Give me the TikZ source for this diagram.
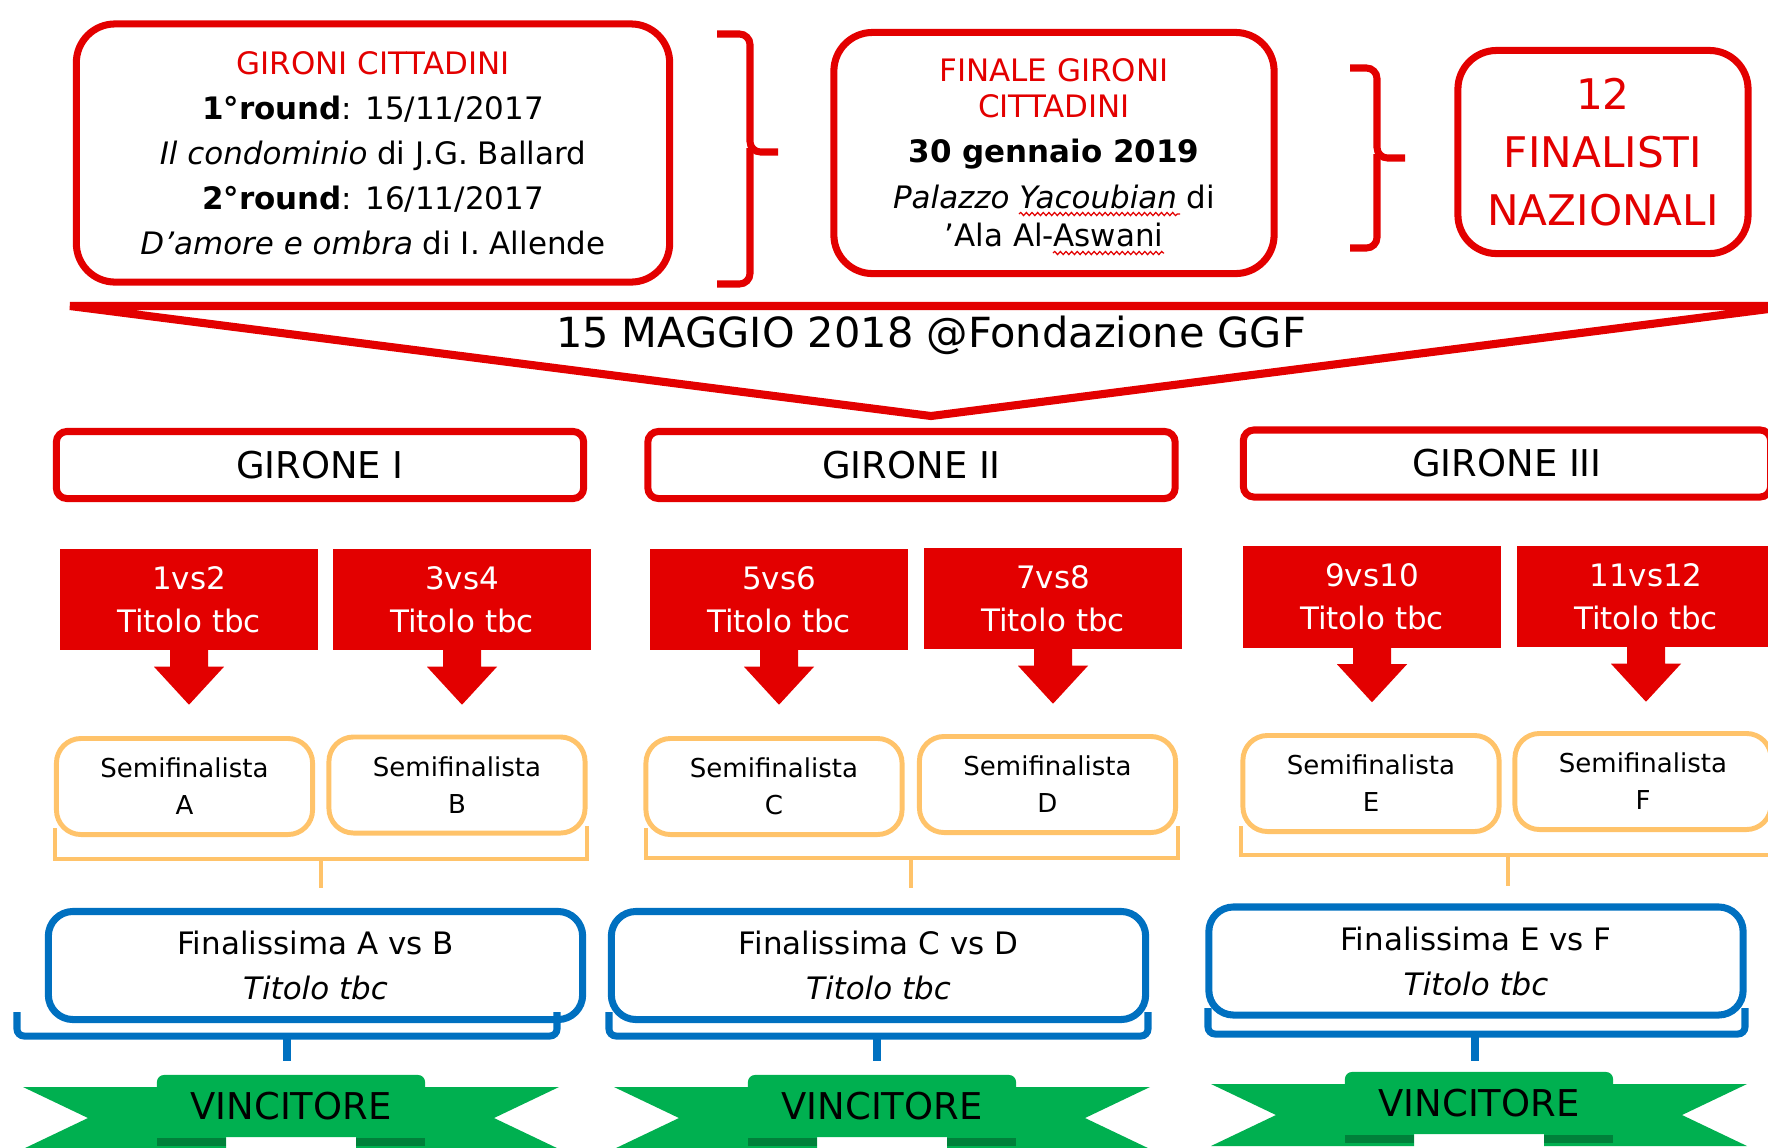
\documentclass[tikz,border=0pt]{standalone}
\usepackage{fontspec}
\setmainfont{DejaVu Sans}
\usepackage{xcolor}
\usepackage{tikz}
\usetikzlibrary{calc}
\usetikzlibrary{positioning}
\usetikzlibrary{decorations.pathmorphing}

\definecolor{ggfred}{HTML}{E30000}
\definecolor{ggforange}{HTML}{FFC36A}
\definecolor{ggfblue}{HTML}{0070C0}
\definecolor{ggfgreen}{HTML}{00B050}
\definecolor{ggfdark}{HTML}{00803A}

\tikzset{
  redbox/.style={draw=ggfred, line width=2pt, rounded corners=11pt, fill=white, align=center, inner sep=0pt},
  girone/.style={draw=ggfred, line width=2pt, rounded corners=3pt, minimum width=5.27cm, minimum height=0.67cm, inner sep=0pt, font=\fontsize{10.5pt}{12pt}\selectfont},
  match/.style={fill=ggfred, text=white, align=center, inner sep=0pt, minimum width=2.58cm, minimum height=1.01cm, font=\fontsize{8.8pt}{12.2pt}\selectfont},
  semi/.style={draw=ggforange, line width=1.4pt, rounded corners=7pt, minimum width=2.56cm, minimum height=0.96cm, align=center, inner sep=0pt, font=\fontsize{7.4pt}{10.5pt}\selectfont},
  final/.style={draw=ggfblue, line width=2pt, rounded corners=7pt, minimum width=5.34cm, minimum height=1.08cm, align=center, inner sep=0pt, font=\fontsize{8.8pt}{12.8pt}\selectfont},
  winner/.style={fill=ggfgreen, rounded corners=2pt, minimum width=2.68cm, minimum height=0.62cm, inner sep=0pt, font=\fontsize{10.5pt}{12pt}\selectfont},
  redbrace/.style={draw=ggfred, line width=2pt, rounded corners=3pt},
  orangebrace/.style={draw=ggforange, line width=1.4pt},
  bluebrace/.style={draw=ggfblue, line width=2pt, rounded corners=2pt},
  spellwave/.style={draw=ggfred, line width=0.35pt, decorate, decoration={snake, amplitude=0.45pt, segment length=1.6pt}},
}

\begin{document}
\begin{tikzpicture}[x=0.01cm, y=-0.01cm]
\useasboundingbox (0,0) rectangle (1768,1147);
\clip (0,0) rectangle (1768,1147);

\node[redbox, minimum width=5.93cm, minimum height=2.58cm, font=\fontsize{8.8pt}{12.8pt}\selectfont] (gc) at (373,153)
  {\textcolor{ggfred}{GIRONI CITTADINI}\\ \textbf{1°round}: 15/11/2017\\ \textit{Il condominio} di J.G. Ballard\\ \textbf{2°round}: 16/11/2017\\ \textit{D’amore e ombra} di I. Allende};
\node[redbox, minimum width=4.4cm, minimum height=2.41cm, font=\fontsize{8.8pt}{10.2pt}\selectfont] (fgc) at (1054,153)
  {\textcolor{ggfred}{FINALE GIRONI}\\ \textcolor{ggfred}{CITTADINI}\\[2.6pt] \textbf{30 gennaio 2019}\\[2.8pt] \textit{Palazzo Yacoubian} di\\[0.6pt] 'Ala Al-Aswani};
\draw[spellwave] ($(fgc)+(-35,61)$) -- ($(fgc)+(126,61)$);
\draw[spellwave] ($(fgc)+(-1,100)$) -- ($(fgc)+(110,100)$);
\node[redbox, minimum width=2.9cm, minimum height=2.03cm, text=ggfred, font=\fontsize{12pt}{16.5pt}\selectfont] (fin) at (1603,152)
  {12\\ FINALISTI\\ NAZIONALI};

\draw[redbrace] (717,34) -- (750,34) -- (750,152) -- (778,152);
\draw[redbrace] (750,148) -- (750,284) -- (717,284);
\draw[redbrace] (1350,68) -- (1377,68) -- (1377,158) -- (1405,158);
\draw[redbrace] (1377,154) -- (1377,248) -- (1350,248);

\draw[ggfred, line width=2.3pt] (70,306) -- (1792,306) -- (931,416) -- cycle;
\node[font=\fontsize{11.8pt}{13pt}\selectfont] (date) at (931,335) {15 MAGGIO 2018 @Fondazione GGF};

\node[girone] (g1) at (320,465) {GIRONE I};
\node[girone] (g2) at (911.5,465) {GIRONE II};
\node[girone] (g3) at (1507,463.5) {GIRONE III};

\node[match] (m1) at (189,599.5) {1vs2\\Titolo tbc};
\node[match] (m2) at (462,599.5) {3vs4\\Titolo tbc};
\node[match] (m3) at (779,599.5) {5vs6\\Titolo tbc};
\node[match] (m4) at (1053,598.5) {7vs8\\Titolo tbc};
\node[match] (m5) at (1372,597) {9vs10\\Titolo tbc};
\node[match] (m6) at (1646,596.5) {11vs12\\Titolo tbc};
\foreach \m in {m1,m2,m3,m4,m5,m6}
  \fill[ggfred] ($(\m.south)+(-19,-1)$) -- ($(\m.south)+(-19,16)$) -- ($(\m.south)+(-35,16)$)
    -- ($(\m.south)+(0,54)$) -- ($(\m.south)+(35,16)$) -- ($(\m.south)+(19,16)$) -- ($(\m.south)+(19,-1)$) -- cycle;

\node[semi] (sA) at (184.5,786.5) {Semifinalista\\A};
\node[semi] (sB) at (457,785) {Semifinalista\\B};
\node[semi] (sC) at (774,786.5) {Semifinalista\\C};
\node[semi] (sD) at (1047.5,784.5) {Semifinalista\\D};
\node[semi] (sE) at (1371,783.5) {Semifinalista\\E};
\node[semi] (sF) at (1643,781.5) {Semifinalista\\F};

\node[final] (f1) at (315.5,965.5) {Finalissima A vs B\\\textit{Titolo tbc}};
\node[final] (f2) at (878.5,965.5) {Finalissima C vs D\\\textit{Titolo tbc}};
\node[final] (f3) at (1476,961) {Finalissima E vs F\\\textit{Titolo tbc}};

\draw[orangebrace] (55,828) |- (587,859) -- (587,826);
\draw[orangebrace] (646,828) |- (1178,858) -- (1178,826);
\draw[orangebrace] (1241,826) |- (1775,855) -- (1775,826);
\coordinate (oI) at (321,859);
\coordinate (oII) at (911,858);
\coordinate (oIII) at (1508,855);
\draw[orangebrace, shorten >=0.2cm] (oI) -- (oI |- f1.north);
\draw[orangebrace, shorten >=0.2cm] (oII) -- (oII |- f2.north);
\draw[orangebrace, shorten >=0.17cm] (oIII) -- (oIII |- f3.north);

\foreach \n/\dx/\dy in {1/0/0, 2/591/0, 3/1188/-3}{
  \begin{scope}[shift={(\dx,\dy)}]
    \fill[ggfgreen] (23,1087) -- (226,1087) -- (226,1149) -- (23,1149) -- (88,1118) -- cycle;
    \fill[ggfgreen] (559,1087) -- (356,1087) -- (356,1149) -- (559,1149) -- (494,1118) -- cycle;
    \fill[ggfdark] (157,1138) rectangle (226,1146);
    \fill[ggfdark] (356,1138) rectangle (425,1146);
    \node[winner] (v\n) at (291,1106) {VINCITORE};
  \end{scope}
}

\draw[bluebrace] (17,1012) |- (557,1036) -- (557,1012);
\draw[bluebrace] (609,1012) |- (1148,1036) -- (1148,1012);
\draw[bluebrace] (1208,1008) |- (1745,1034) -- (1745,1008);
\coordinate (bI) at (287,1036);
\coordinate (bII) at (877,1036);
\coordinate (bIII) at (1475,1034);
\draw[ggfblue, line width=2pt, shorten >=0.13cm] (bI) -- (bI |- v1.north);
\draw[ggfblue, line width=2pt, shorten >=0.13cm] (bII) -- (bII |- v2.north);
\draw[ggfblue, line width=2pt, shorten >=0.1cm] (bIII) -- (bIII |- v3.north);
\end{tikzpicture}
\end{document}
